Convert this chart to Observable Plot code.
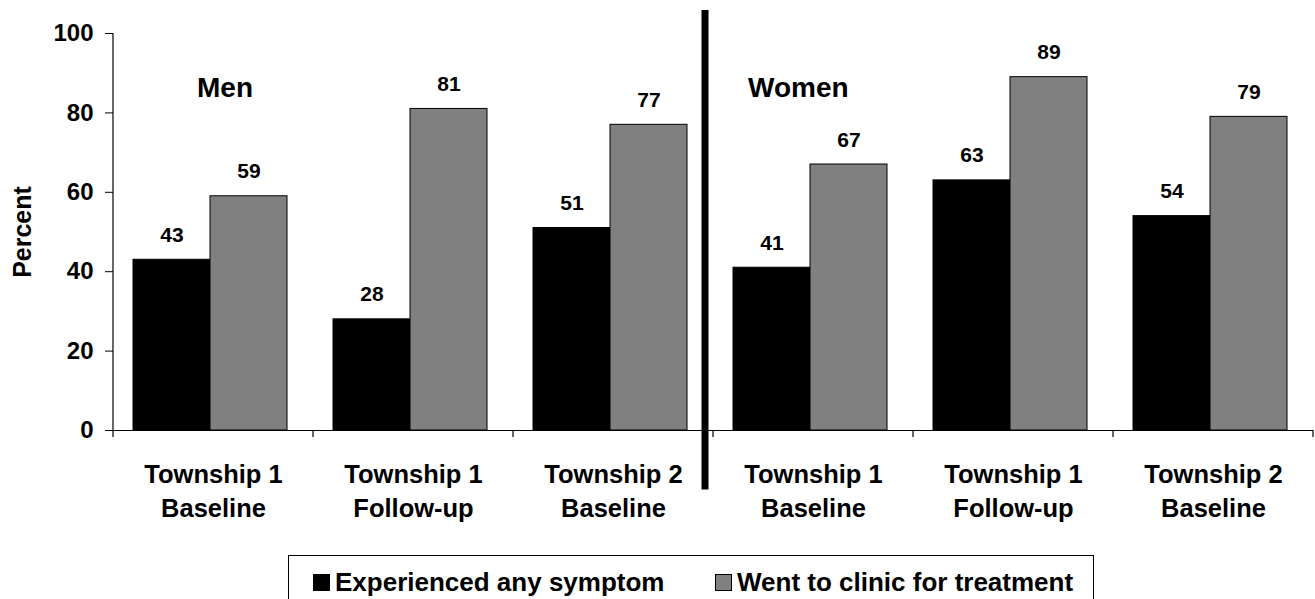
<!DOCTYPE html>
<html>
<head>
<meta charset="utf-8">
<script src="https://cdn.jsdelivr.net/npm/d3@7"></script>
<script src="https://cdn.jsdelivr.net/npm/@observablehq/plot@0.6"></script>
<style>
  html, body { margin: 0; padding: 0; background: #fff; overflow: hidden; }
  #wrap { position: relative; width: 1315px; height: 599px; font-family: "Liberation Sans", Arial, sans-serif; }
  #chart svg { display: block; }
  #legend { position: absolute; left: 288px; top: 555px; width: 806px; height: 50px; border: 1.5px solid #000; box-sizing: border-box; }
  .item { position: absolute; top: 13px; display: flex; align-items: center; font-weight: bold; font-size: 26px; line-height: 26px; color: #000; }
  .sw { width: 17px; height: 17px; box-sizing: border-box; border: 1px solid #000; margin-right: 5px; }
</style>
</head>
<body>
<div id="wrap">
  <div id="chart"></div>
  <div id="legend"></div>
</div>
<script>
// ---- data ----
const groups = ["M1", "M2", "M3", "W1", "W2", "W3"];
const groupLabels = ["Township 1\nBaseline", "Township 1\nFollow-up", "Township 2\nBaseline",
                     "Township 1\nBaseline", "Township 1\nFollow-up", "Township 2\nBaseline"];
const series = ["Experienced any symptom", "Went to clinic for treatment"];
const seriesColors = ["#000000", "#808080"];
const symptom = [43, 28, 51, 41, 63, 54];
const clinic = [59, 81, 77, 67, 89, 79];
const panelLabels = ["Men", "Women"];
const panelGroups = ["M1", "W1"];
const yTicks = [0, 20, 40, 60, 80, 100];
const yLabel = "Percent";

const rows = [];
groups.forEach((g, i) => {
  rows.push({group: g, series: series[0], value: symptom[i]});
  rows.push({group: g, series: series[1], value: clinic[i]});
});
const labelRows = groups.map((g, i) => ({group: g, label: groupLabels[i]}));

const font = "Liberation Sans, Arial, sans-serif";

const chart = Plot.plot({
  width: 1315,
  height: 545,
  marginTop: 33,
  marginBottom: 115,
  marginLeft: 113,
  marginRight: 2,
  style: {fontFamily: font, color: "#000", background: "#fff", overflow: "visible"},
  fx: {domain: groups, padding: 0, axis: null},
  x: {type: "band", domain: series, paddingInner: 0, paddingOuter: 0.29, align: 0.44, axis: null},
  y: {domain: [0, 100], axis: null},
  color: {domain: series, range: seriesColors},
  marks: [
    Plot.axisY({ticks: yTicks, tickSize: 8, tickPadding: 12, fontSize: 24, fontWeight: "bold", label: null, stroke: "#000", fill: "#000"}),
    Plot.barY(rows, {fx: "group", x: "series", y: "value", fill: "series", stroke: "#000", strokeWidth: 1}),
    Plot.ruleY([0], {stroke: "#000", strokeWidth: 1.2}),
    Plot.text(rows, {fx: "group", x: "series", y: "value", text: d => String(d.value),
      lineAnchor: "bottom", dy: -18, fontSize: 21, fontWeight: "bold", fill: "#000"}),
    Plot.text(labelRows, {fx: "group", text: "label", frameAnchor: "bottom", lineAnchor: "top",
      dy: 28, lineHeight: 1.34, fontSize: 25.5, fontWeight: "bold", fill: "#000"}),
    Plot.text([{group: panelGroups[0], label: panelLabels[0]}], {fx: "group", x: () => series[0], y: () => 84, text: "label",
      textAnchor: "start", lineAnchor: "bottom", dx: 25, fontSize: 28, fontWeight: "bold", fill: "#000"}),
    Plot.text([{group: panelGroups[1], label: panelLabels[1]}], {fx: "group", x: () => series[0], y: () => 84, text: "label",
      textAnchor: "start", lineAnchor: "bottom", dx: -24, fontSize: 28, fontWeight: "bold", fill: "#000"}),
    Plot.text([{group: groups[0], label: yLabel}], {fx: "group", y: () => 50, frameAnchor: "left", text: "label",
      rotate: -90, textAnchor: "middle", lineAnchor: "middle", dx: -91, fontSize: 25, fontWeight: "bold", fill: "#000"})
  ]
});
document.getElementById("chart").appendChild(chart);

// axis line, boundary ticks and the Men/Women divider, positioned through the plot's scales
const fxS = chart.scale("fx");
const yS = chart.scale("y");
const svg = d3.select(chart);
const deco = svg.append("g").attr("stroke", "#000");
const left = fxS.apply(groups[0]);
const bw = fxS.bandwidth;
deco.append("line").attr("x1", left).attr("x2", left)
  .attr("y1", yS.apply(0)).attr("y2", yS.apply(100)).attr("stroke-width", 1.2);
const edges = groups.map(g => fxS.apply(g)).concat([fxS.apply(groups[groups.length - 1]) + bw]);
edges.forEach(x => {
  deco.append("line").attr("x1", x).attr("x2", x)
    .attr("y1", yS.apply(0)).attr("y2", yS.apply(0) + 7).attr("stroke-width", 1.2);
});
const divX = fxS.apply(panelGroups[1]) - 8;
deco.append("line").attr("x1", divX).attr("x2", divX)
  .attr("y1", yS.apply(105.8)).attr("y2", yS.apply(-15)).attr("stroke-width", 7);

// legend
const legend = document.getElementById("legend");
const itemLeft = [24, 426];
series.forEach((s, i) => {
  const it = document.createElement("div");
  it.className = "item";
  it.style.left = itemLeft[i] + "px";
  const sw = document.createElement("span");
  sw.className = "sw";
  sw.style.background = seriesColors[i];
  const tx = document.createElement("span");
  tx.textContent = s;
  it.appendChild(sw);
  it.appendChild(tx);
  legend.appendChild(it);
});
</script>
</body>
</html>
